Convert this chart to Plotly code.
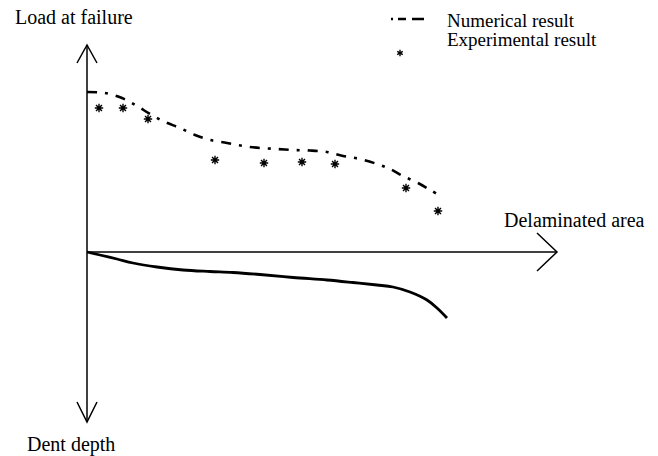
import plotly.graph_objects as go

# Numerical prediction of load at failure vs delaminated area (arbitrary units)
num_area = [0.0, 1.8, 3.5, 5.0, 6.3, 7.8, 9.3, 10.8, 12.3, 14.0, 15.6, 17.3,
            19.0, 20.6, 22.3, 24.0, 25.6, 27.3, 29.0, 30.3, 31.6, 33.1, 35.0]
num_load = [16.0, 15.9, 15.4, 14.6, 13.8, 13.0, 12.4, 11.7, 11.2, 10.9, 10.6, 10.4,
            10.3, 10.2, 10.15, 10.0, 9.6, 9.3, 8.8, 8.3, 7.6, 6.9, 5.8]

# Experimental load at failure
exp_area = [1.2, 3.6, 6.1, 12.8, 17.7, 21.5, 24.8, 31.9, 35.1]
exp_load = [14.4, 14.4, 13.3, 9.2, 8.9, 9.0, 8.8, 6.4, 4.1]

# Dent depth vs delaminated area (plotted downward)
dent_area = [0.0, 1.3, 3.0, 4.6, 7.0, 9.6, 12.3, 14.6, 17.3, 20.6, 24.0, 26.6,
             29.0, 30.6, 32.3, 34.0, 35.0, 36.0]
dent_depth = [0.0, -0.3, -0.7, -1.1, -1.5, -1.8, -1.95, -2.05, -2.25, -2.55, -2.8, -3.05,
              -3.3, -3.5, -4.0, -4.8, -5.6, -6.6]

SERIF = "Liberation Serif, Times New Roman, serif"
FS = 20
FS_LEGEND = 19
NUM_DASH = "10px,8px,3px,8px"

fig = go.Figure()

fig.add_trace(go.Scatter(
    x=num_area, y=num_load, mode="lines", name="Numerical result",
    line=dict(color="black", width=2.6, dash=NUM_DASH, shape="spline"),
))
fig.add_trace(go.Scatter(
    x=exp_area, y=exp_load, mode="markers", name="Experimental result",
    marker=dict(symbol="asterisk", size=7, color="black",
                line=dict(color="black", width=1.4)),
))
fig.add_trace(go.Scatter(
    x=dent_area, y=dent_depth, mode="lines", name="Dent depth",
    line=dict(color="black", width=2.8, shape="spline"),
))

# Axes with open arrowheads
axis_line = dict(color="black", width=1.5)
shapes = [
    dict(type="line", x0=0, y0=-17.0, x1=0, y1=20.7, line=axis_line),
    dict(type="line", x0=0, y0=0, x1=47.0, y1=0, line=axis_line),
    dict(type="path", path="M -1.0 18.9 L 0 20.7 L 1.0 18.9", line=axis_line),
    dict(type="path", path="M -1.0 -15.0 L 0 -17.0 L 1.0 -15.0", line=axis_line),
    dict(type="path", path="M 45.0 1.9 L 47.0 0 L 45.0 -1.9", line=axis_line),
]

# Legend keys: dot-dash sample and a small asterisk
shapes.append(dict(type="line", x0=30.4, x1=34.0, y0=23.3, y1=23.3,
                   line=dict(color="black", width=2.6, dash="2px,5px,8px,6px,12px,40px")))
star = dict(color="black", width=1.4)
cx, cy = 31.3, 19.9
shapes += [
    dict(type="line", x0=cx, x1=cx, y0=cy - 0.32, y1=cy + 0.32, line=star),
    dict(type="line", x0=cx - 0.28, x1=cx + 0.28, y0=cy - 0.16, y1=cy + 0.16, line=star),
    dict(type="line", x0=cx - 0.28, x1=cx + 0.28, y0=cy + 0.16, y1=cy - 0.16, line=star),
]
for s in shapes:
    s.update(xref="x", yref="y")

labels = [
    dict(text="Load at failure", x=-7.4, y=23.5, size=FS),
    dict(text="Dent depth", x=-6.2, y=-19.2, size=FS),
    dict(text="Delaminated area", x=41.5, y=3.2, size=FS),
    dict(text="Numerical result", x=35.8, y=23.2, size=FS_LEGEND),
    dict(text="Experimental result", x=35.8, y=21.3, size=FS_LEGEND),
]
annotations = [
    dict(text=l["text"], x=l["x"], y=l["y"], xref="x", yref="y",
         xanchor="left", yanchor="middle", showarrow=False,
         font=dict(family=SERIF, size=l["size"], color="black"))
    for l in labels
]

fig.update_layout(
    width=658, height=456,
    margin=dict(l=0, r=0, t=0, b=0),
    paper_bgcolor="white", plot_bgcolor="white",
    xaxis=dict(range=[-8.7, 57.1], visible=False, fixedrange=True),
    yaxis=dict(range=[-20.4, 25.2], visible=False, fixedrange=True),
    shapes=shapes,
    annotations=annotations,
    showlegend=False,
)

fig.write_html("out.html")
